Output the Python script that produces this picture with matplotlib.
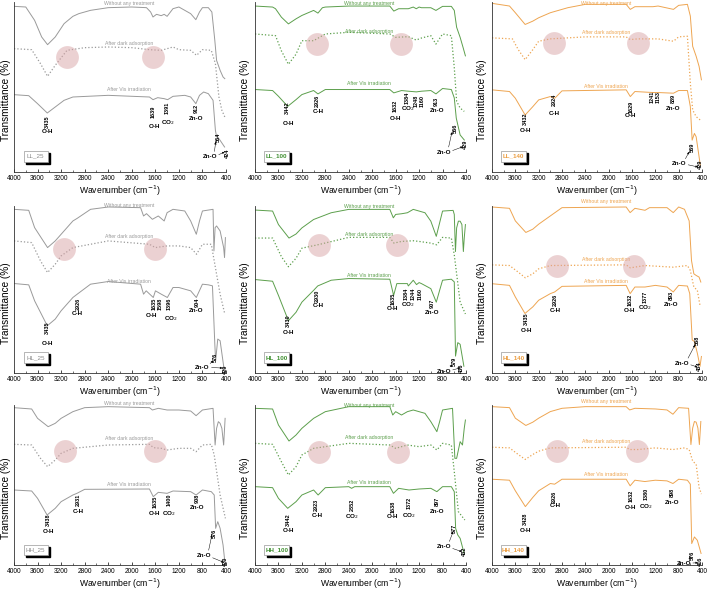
import matplotlib.pyplot as plt
from matplotlib.ticker import MultipleLocator
from matplotlib.patches import Rectangle

plt.rcParams['font.family'] = ['Liberation Sans', 'DejaVu Sans']

# readings from the picture: (wavenumber, depth below frame top), frame = (top, bottom)
# --- LL_25 ---
ll25_frame = (5, 515)
ll25_raw = [(4000, 18), (3800, 20), (3650, 60), (3530, 110), (3430, 133), (3300, 110), (3150, 70), (3000, 48),
            (2950, 44), (2900, 40), (2700, 30), (2400, 22), (2000, 20), (1750, 22), (1680, 35), (1640, 50),
            (1580, 42), (1500, 46), (1450, 42), (1400, 48), (1300, 25), (1200, 20), (1100, 30), (1000, 40),
            (912, 58), (850, 35), (800, 22), (700, 22), (640, 35), (590, 120), (560, 180), (500, 210), (450, 230), (420, 235)]
ll25_dark = [(4000, 145), (3700, 148), (3550, 190), (3430, 228), (3300, 195), (3100, 150), (2800, 142), (2400, 140),
             (2000, 142), (1700, 148), (1500, 150), (1300, 140), (1200, 148), (1000, 150), (900, 165), (800, 148),
             (650, 150), (580, 190), (520, 290), (470, 330), (420, 350)]
ll25_vis = [(4000, 283), (3750, 286), (3600, 310), (3435, 338), (3300, 320), (3150, 300), (3000, 290), (2400, 285),
            (1700, 290), (1639, 298), (1560, 292), (1450, 295), (1391, 298), (1300, 288), (1100, 285), (1000, 290),
            (912, 310), (850, 285), (780, 275), (700, 280), (620, 300), (580, 390), (564, 405), (500, 420), (424, 440)]
ll25_peaks = [(3435, 365, "3435"), (1639, 335, "1639"), (1391, 322, "1391"), (912, 325, "912"),
              (526, 410, "564"), (380, 458, "424")]
ll25_groups = [(3435, 393, "O-H"), (1620, 378, "O-H"), (1380, 366, "CO$_2$"), (900, 356, "Zn-O")]
ll25_zno = (669, 470, [(575, 425), (425, 455)])
ll25_titles = [8, 128, 268]
ll25_circles = [(3100, 170), (1640, 170)]

# --- LL_100 ---
ll100_frame = (5, 510)
ll100_raw = [(4000, 17), (3700, 20), (3650, 25), (3550, 50), (3430, 70), (3300, 55), (3200, 45), (3000, 30),
             (2926, 38), (2850, 22), (2800, 20), (2400, 17), (1700, 17), (1632, 32), (1550, 25), (1384, 25),
             (1300, 20), (1248, 25), (1200, 20), (1160, 22), (1000, 22), (913, 30), (800, 18), (650, 18),
             (600, 30), (560, 80), (500, 110), (450, 140), (410, 165)]
ll100_dark = [(4000, 100), (3650, 105), (3550, 150), (3430, 190), (3300, 160), (3200, 120), (3000, 120), (2800, 100),
              (2400, 95), (1700, 100), (1600, 110), (1384, 108), (1250, 118), (1160, 112), (1000, 105), (913, 130),
              (800, 100), (650, 105), (600, 200), (560, 300), (500, 320), (430, 330)]
ll100_vis = [(4000, 265), (3700, 268), (3600, 285), (3442, 315), (3300, 295), (3200, 280), (3000, 268), (2926, 278),
             (2800, 265), (1700, 265), (1632, 275), (1500, 268), (1384, 270), (1248, 272), (1160, 270), (1000, 268),
             (913, 278), (800, 262), (650, 265), (600, 290), (566, 350), (500, 400), (429, 415)]
ll100_peaks = [(3442, 320, "3442"), (2939, 300, "2926"), (1610, 315, "1632"), (1395, 290, "1384"),
               (1250, 300, "1248"), (1150, 300, "1160"), (903, 300, "913"), (589, 380, "566"), (417, 428, "429")]
ll100_groups = [(3430, 365, "O-H"), (2926, 330, "C-H"), (1610, 352, "O-H"), (1384, 322, "CO$_2$"), (900, 327, "Zn-O")]
ll100_zno = (777, 452, [(640, 392), (455, 435)])
ll100_titles = [8, 92, 248]
ll100_circles = [(2940, 130), (1510, 130)]

# --- LL_140 ---
ll140_frame = (8, 515)
ll140_raw = [(4000, 12), (3700, 20), (3600, 40), (3432, 75), (3300, 65), (3200, 55), (3000, 40), (2700, 25),
             (2400, 15), (1700, 15), (1629, 30), (1550, 22), (1241, 22), (1153, 20), (889, 30), (800, 18),
             (650, 15), (600, 50), (560, 140), (500, 170), (450, 200), (410, 240)]
ll140_dark = [(4000, 115), (3650, 118), (3550, 150), (3432, 180), (3300, 150), (3200, 125), (3000, 118), (2400, 112),
              (1700, 112), (1630, 120), (1500, 118), (1241, 118), (1153, 118), (889, 125), (800, 112), (650, 110),
              (600, 250), (560, 330), (500, 350), (430, 360)]
ll140_vis = [(4000, 270), (3700, 275), (3600, 295), (3432, 345), (3300, 320), (3200, 300), (3000, 290), (2924, 295),
             (2800, 273), (1700, 270), (1629, 290), (1550, 275), (1241, 278), (1153, 278), (889, 280), (800, 272),
             (650, 272), (600, 320), (569, 420), (530, 400), (500, 410), (429, 495)]
ll140_peaks = [(3429, 355, "3432"), (2926, 300, "2924"), (1611, 320, "1629"), (1255, 290, "1241"),
               (1155, 292, "1153"), (900, 295, "889"), (571, 440, "569"), (430, 493, "429")]
ll140_groups = [(3430, 392, "O-H"), (2924, 340, "C-H"), (1620, 347, "O-H"), (900, 325, "Zn-O")]
ll140_zno = (790, 490, [(620, 455), (470, 500)])
ll140_titles = [12, 98, 260]
ll140_circles = [(2930, 130), (1500, 130)]

# --- HL_25 ---
hl25_frame = (35, 537)
hl25_raw = [(4000, 45), (3750, 48), (3650, 100), (3430, 160), (3300, 140), (3200, 120), (3000, 80), (2926, 72),
            (2700, 45), (2400, 38), (1850, 40), (1800, 65), (1750, 58), (1650, 75), (1550, 65), (1450, 80),
            (1400, 55), (1300, 45), (1100, 50), (1000, 80), (904, 120), (850, 80), (800, 50), (620, 45),
            (605, 170), (585, 100), (560, 95), (500, 110), (440, 160), (425, 190), (410, 130)]
hl25_dark = [(4000, 140), (3700, 145), (3550, 200), (3430, 235), (3300, 210), (3200, 185), (3000, 160), (2400, 140),
             (1700, 150), (1600, 160), (1400, 155), (1200, 155), (1000, 160), (900, 180), (800, 150), (650, 150),
             (600, 200), (500, 300), (420, 360)]
hl25_vis = [(4000, 268), (3750, 272), (3650, 320), (3435, 395), (3300, 375), (3200, 350), (3000, 310), (2926, 300),
            (2700, 270), (2400, 262), (1850, 270), (1800, 300), (1755, 290), (1635, 310), (1598, 290), (1500, 300),
            (1396, 310), (1300, 280), (1200, 280), (1000, 290), (904, 310), (800, 270), (700, 272), (630, 275),
            (590, 450), (576, 500), (540, 435), (500, 440), (429, 530)]
hl25_peaks = [(3427, 400, "3435"), (2911, 330, "2926"), (1620, 330, "1635"), (1525, 330, "1598"),
              (1365, 330, "1396"), (892, 325, "904"), (577, 490, "576"), (416, 525, "429")]
hl25_groups = [(3430, 447, "O-H"), (2926, 358, "C-H"), (1666, 365, "O-H"), (1334, 372, "CO$_2$"), (900, 350, "Zn-O")]
hl25_zno = (800, 520, [(617, 500), (462, 522)])
hl25_titles = [35, 127, 262]
hl25_circles = [(3150, 165), (1610, 165)]

# --- HL_100 ---
hl100_frame = (35, 530)
hl100_raw = [(4000, 47), (3700, 50), (3600, 90), (3420, 130), (3300, 118), (3200, 100), (3000, 75), (2700, 55),
             (2400, 45), (1700, 45), (1640, 70), (1600, 60), (1500, 58), (1400, 55), (1300, 45), (1100, 55),
             (1000, 80), (907, 125), (850, 85), (800, 50), (620, 48), (600, 60), (580, 170), (560, 100),
             (530, 80), (500, 80), (470, 90), (445, 170), (430, 130), (410, 90)]
hl100_dark = [(4000, 130), (3700, 130), (3550, 185), (3430, 215), (3300, 190), (3200, 160), (2930, 150), (2400, 128),
              (1700, 128), (1630, 145), (1500, 140), (1300, 138), (1200, 140), (1000, 145), (900, 150), (800, 128),
              (650, 130), (600, 180), (500, 320), (410, 355)]
hl100_vis = [(4000, 253), (3700, 258), (3600, 300), (3430, 375), (3300, 350), (3200, 320), (3000, 285), (2930, 272),
             (2700, 255), (2400, 250), (1700, 252), (1635, 300), (1580, 265), (1400, 265), (1384, 272), (1300, 255),
             (1244, 268), (1200, 262), (1160, 265), (1000, 280), (907, 320), (850, 285), (800, 255), (650, 252),
             (600, 260), (579, 480), (540, 440), (500, 445), (436, 510)]
hl100_peaks = [(3427, 375, "3430"), (2928, 300, "2930"), (1649, 310, "1635"), (1415, 295, "1384"),
               (1295, 295, "1244"), (1180, 295, "1160"), (978, 325, "907"), (600, 495, "579"), (474, 515, "436")]
hl100_groups = [(3427, 410, "O-H"), (2928, 330, "C-H"), (1649, 340, "O-H"), (1400, 326, "CO$_2$"), (978, 350, "Zn-O")]
hl100_zno = (778, 525, [(640, 505), (500, 515)])
hl100_titles = [37, 118, 240]
hl100_circles = [(2900, 150), (1570, 150)]

# --- HL_140 ---
hl140_frame = (35, 540)
hl140_raw = [(4000, 38), (3700, 42), (3600, 80), (3420, 115), (3300, 105), (3200, 90), (3000, 65), (2800, 40),
             (1700, 38), (1632, 55), (1550, 42), (1377, 48), (1300, 40), (1000, 40), (893, 55), (800, 38),
             (700, 45), (620, 80), (580, 200), (540, 240), (500, 245), (450, 250), (420, 265)]
hl140_dark = [(4000, 213), (3700, 215), (3550, 235), (3430, 252), (3300, 240), (3200, 225), (3000, 215), (1700, 213),
              (1630, 222), (1377, 215), (893, 220), (650, 215), (600, 230), (540, 280), (480, 290), (430, 340)]
hl140_vis = [(4000, 270), (3700, 275), (3600, 310), (3435, 360), (3300, 340), (3200, 320), (3000, 300), (2926, 295),
             (2800, 278), (1700, 275), (1632, 300), (1550, 280), (1377, 280), (1200, 275), (1000, 280), (893, 295),
             (800, 275), (650, 277), (610, 300), (568, 440), (530, 445), (480, 480), (434, 520), (410, 490)]
hl140_peaks = [(3413, 375, "3435"), (2911, 320, "2926"), (1637, 320, "1632"), (1374, 310, "1377"),
               (922, 305, "893"), (481, 440, "568"), (452, 520, "434")]
hl140_groups = [(3413, 410, "O-H"), (2911, 350, "C-H"), (1637, 350, "O-H"), (1374, 343, "CO$_2$"), (922, 333, "Zn-O")]
hl140_zno = (743, 510, [(520, 455), (480, 522)])
hl140_titles = [22, 198, 262]
hl140_circles = [(2880, 215), (1560, 215)]

# --- HH_25 ---
hh25_frame = (30, 510)
hh25_raw = [(4000, 38), (3700, 42), (3600, 70), (3420, 95), (3300, 85), (3200, 70), (3000, 50), (2800, 38),
            (2400, 35), (1700, 38), (1650, 45), (1550, 40), (1400, 45), (1200, 45), (1000, 48), (908, 62),
            (800, 45), (620, 40), (585, 150), (560, 100), (530, 80), (500, 85), (470, 100), (440, 150), (415, 70)]
hh25_dark = [(4000, 148), (3700, 150), (3550, 190), (3430, 215), (3300, 195), (3200, 175), (3000, 160), (2400, 150),
             (1700, 148), (1630, 158), (1500, 160), (1400, 165), (1200, 160), (1000, 160), (908, 170), (800, 150),
             (650, 148), (600, 180), (500, 300), (410, 370)]
hh25_vis = [(4000, 285), (3700, 288), (3600, 310), (3438, 360), (3300, 340), (3200, 320), (3000, 300), (2931, 295),
            (2800, 283), (1700, 282), (1635, 305), (1550, 292), (1400, 295), (1300, 288), (1000, 290), (908, 300),
            (800, 285), (650, 290), (600, 300), (576, 400), (540, 380), (500, 400), (450, 450), (420, 500)]
hh25_peaks = [(3414, 375, "3438"), (2909, 315, "2931"), (1606, 320, "1635"), (1365, 315, "1400"),
              (889, 310, "908"), (602, 415, "576"), (412, 500, "420")]
hh25_groups = [(3414, 410, "O-H"), (2909, 350, "C-H"), (1606, 355, "O-H"), (1365, 357, "CO$_2$"), (889, 338, "Zn-O")]
hh25_zno = (774, 482, [(640, 420), (440, 502)])
hh25_titles = [25, 130, 268]
hh25_circles = [(3130, 168), (1600, 168)]

# --- HH_100 ---
hh100_frame = (30, 510)
hh100_raw = [(4000, 40), (3700, 42), (3600, 90), (3420, 138), (3300, 120), (3200, 100), (3000, 70), (2800, 50),
             (2400, 35), (1700, 35), (1650, 60), (1600, 50), (1500, 60), (1400, 50), (1300, 45), (1100, 55),
             (1000, 80), (897, 110), (850, 80), (800, 45), (630, 40), (590, 190), (560, 190), (500, 140),
             (460, 150), (430, 100), (410, 75)]
hh100_dark = [(4000, 145), (3700, 148), (3550, 200), (3430, 240), (3300, 215), (3200, 180), (3000, 160), (2400, 145),
              (1700, 150), (1600, 160), (1500, 155), (1400, 150), (1200, 155), (1000, 150), (897, 165), (800, 145),
              (650, 150), (600, 230), (530, 350), (420, 375)]
hh100_vis = [(4000, 275), (3700, 278), (3600, 310), (3442, 340), (3300, 320), (3200, 300), (3000, 285), (2923, 300),
             (2800, 278), (2400, 275), (2352, 280), (2300, 275), (1700, 275), (1638, 295), (1550, 280), (1372, 285),
             (1200, 282), (1000, 280), (897, 290), (800, 275), (650, 275), (600, 290), (577, 400), (540, 420),
             (500, 430), (432, 475)]
hh100_peaks = [(3430, 375, "3442"), (2945, 330, "2923"), (2346, 330, "2352"), (1650, 335, "1638"),
               (1376, 325, "1372"), (891, 320, "897"), (594, 400, "577"), (434, 470, "432")]
hh100_groups = [(3430, 408, "O-H"), (2930, 362, "C-H"), (2346, 366, "CO$_2$"), (1650, 364, "O-H"),
                (1376, 362, "CO$_2$"), (891, 350, "Zn-O")]
hh100_zno = (777, 455, [(620, 410), (470, 470)])
hh100_titles = [30, 128, 262]
hh100_circles = [(2910, 170), (1560, 170)]

# --- HH_140 ---
hh140_frame = (30, 515)
hh140_raw = [(4000, 35), (3700, 38), (3600, 70), (3420, 92), (3300, 82), (3200, 70), (3000, 50), (2800, 40),
             (2400, 35), (1700, 35), (1640, 45), (1550, 40), (1200, 42), (1000, 45), (898, 58), (800, 38),
             (630, 40), (590, 150), (560, 100), (530, 80), (500, 82), (470, 100), (445, 150), (420, 80)]
hh140_dark = [(4000, 158), (3700, 160), (3550, 180), (3430, 195), (3300, 180), (3200, 170), (3000, 160), (1700, 158),
              (1640, 165), (1500, 165), (1200, 160), (898, 165), (700, 160), (620, 165), (560, 200), (500, 210),
              (450, 280), (410, 300)]
hh140_vis = [(4000, 255), (3700, 258), (3600, 290), (3428, 338), (3300, 310), (3200, 290), (3000, 268), (2926, 270),
             (2800, 255), (1700, 255), (1632, 275), (1550, 258), (1380, 262), (1200, 258), (1000, 260), (898, 268),
             (800, 255), (650, 258), (600, 270), (576, 450), (530, 430), (480, 440), (416, 480)]
hh140_peaks = [(3433, 375, "3428"), (2923, 310, "2926"), (1619, 305, "1632"), (1364, 300, "1380"),
               (910, 295, "898"), (570, 485, "576"), (429, 505, "416")]
hh140_groups = [(3433, 410, "O-H"), (2923, 335, "C-H"), (1619, 340, "O-H"), (1364, 338, "CO$_2$"), (910, 325, "Zn-O")]
hh140_zno = (712, 510, [(595, 490), (470, 508)])
hh140_titles = [20, 140, 240]
hh140_circles = [(2880, 170), (1520, 170)]

gray, green, orange = '#9a9a9a', '#5c9f4c', '#eea551'
label_colors = {gray: '#8a8a8a', green: '#3f8f30', orange: '#eb9c3f'}

panels = [
    ("LL_25", gray, ll25_frame, ll25_raw, ll25_dark, ll25_vis, ll25_peaks, ll25_groups, ll25_zno, ll25_titles, ll25_circles),
    ("LL_100", green, ll100_frame, ll100_raw, ll100_dark, ll100_vis, ll100_peaks, ll100_groups, ll100_zno, ll100_titles, ll100_circles),
    ("LL_140", orange, ll140_frame, ll140_raw, ll140_dark, ll140_vis, ll140_peaks, ll140_groups, ll140_zno, ll140_titles, ll140_circles),
    ("HL_25", gray, hl25_frame, hl25_raw, hl25_dark, hl25_vis, hl25_peaks, hl25_groups, hl25_zno, hl25_titles, hl25_circles),
    ("HL_100", green, hl100_frame, hl100_raw, hl100_dark, hl100_vis, hl100_peaks, hl100_groups, hl100_zno, hl100_titles, hl100_circles),
    ("HL_140", orange, hl140_frame, hl140_raw, hl140_dark, hl140_vis, hl140_peaks, hl140_groups, hl140_zno, hl140_titles, hl140_circles),
    ("HH_25", gray, hh25_frame, hh25_raw, hh25_dark, hh25_vis, hh25_peaks, hh25_groups, hh25_zno, hh25_titles, hh25_circles),
    ("HH_100", green, hh100_frame, hh100_raw, hh100_dark, hh100_vis, hh100_peaks, hh100_groups, hh100_zno, hh100_titles, hh100_circles),
    ("HH_140", orange, hh140_frame, hh140_raw, hh140_dark, hh140_vis, hh140_peaks, hh140_groups, hh140_zno, hh140_titles, hh140_circles),
]
curve_names = ["Without any treatment", "After dark adsorption", "After Vis irradiation"]

W, H = 712, 598
col_x = [(14, 226), (255, 466), (492, 702)]
row_y = [(2, 172), (206, 373), (405, 565)]
ylabel_x = [-0.012, -0.024, -0.024]

fig = plt.figure(figsize=(W / 100, H / 100), dpi=100)


def conv(frame, d):
    top, bot = frame
    return 100 * (bot - d) / (bot - top)


for i, (name, color, frame, raw, dark, vis, peaks, groups, zno, titles, circles) in enumerate(panels):
    x0, x1 = col_x[i % 3]
    y0, y1 = row_y[i // 3]
    ax = fig.add_axes([x0 / W, 1 - y1 / H, (x1 - x0) / W, (y1 - y0) / H])

    for pts, ls, lw in [(raw, '-', 0.7), (dark, ':', 0.9), (vis, '-', 0.7)]:
        ax.plot([p[0] for p in pts], [conv(frame, p[1]) for p in pts], ls=ls, lw=lw, color=color)

    ax.scatter([c[0] for c in circles], [conv(frame, c[1]) for c in circles], s=270,
               color='#d9a4a6', alpha=0.5, lw=0, zorder=5)

    for d, txt in zip(titles, curve_names):
        ax.text(2050, conv(frame, d), txt, color=color, fontsize=3.7, ha='center', va='center')

    for w, d, txt in peaks:
        ax.text(w, conv(frame, d), txt, rotation=90, fontsize=4.0, fontweight='bold',
                ha='center', va='center', clip_on=False)
    for w, d, txt in groups:
        ax.text(w, conv(frame, d), txt, fontsize=4.5, fontweight='bold', ha='center', va='center')

    zw, zd, targets = zno
    ax.text(zw, conv(frame, zd), "Zn-O", fontsize=4.5, fontweight='bold', ha='center', va='center')
    for tw, td in targets:
        ax.annotate('', xy=(tw, conv(frame, td)), xytext=(zw - 60, conv(frame, zd)),
                    arrowprops=dict(arrowstyle='-|>', lw=0.35, color='k', mutation_scale=3,
                                    shrinkA=4, shrinkB=0))

    # sample tag with shadow
    ax.add_patch(Rectangle((0.057, 0.048), 0.115, 0.065, transform=ax.transAxes, color='k', zorder=6))
    ax.add_patch(Rectangle((0.045, 0.06), 0.115, 0.065, transform=ax.transAxes, facecolor='white',
                           edgecolor='#999999', lw=0.5, zorder=7))
    ax.text(0.1025, 0.0925, name, transform=ax.transAxes, fontsize=4.5, color=label_colors[color],
            fontweight='normal' if color == gray else 'bold', ha='center', va='center', zorder=8)

    ax.set_xlim(4000, 400)
    ax.set_ylim(0, 100)
    ax.set_yticks([])
    ax.xaxis.set_major_locator(MultipleLocator(400))
    ax.xaxis.set_minor_locator(MultipleLocator(200))
    ax.tick_params(axis='x', which='major', direction='in', length=2.5, width=0.5, labelsize=4.8, pad=2)
    ax.tick_params(axis='x', which='minor', direction='in', length=1.5, width=0.4)
    for s in ['top', 'right']:
        ax.spines[s].set_visible(False)
    for s in ['left', 'bottom']:
        ax.spines[s].set_linewidth(0.6)
        ax.spines[s].set_color('#333333')
    ax.set_xlabel("Wavenumber (cm$^{-1}$)", fontsize=6.2, labelpad=1)
    ax.set_ylabel("Transmittance (%)", fontsize=7.2, labelpad=2)
    ax.yaxis.set_label_coords(ylabel_x[i % 3], 0.42)

fig.savefig("out.png", dpi=100)
